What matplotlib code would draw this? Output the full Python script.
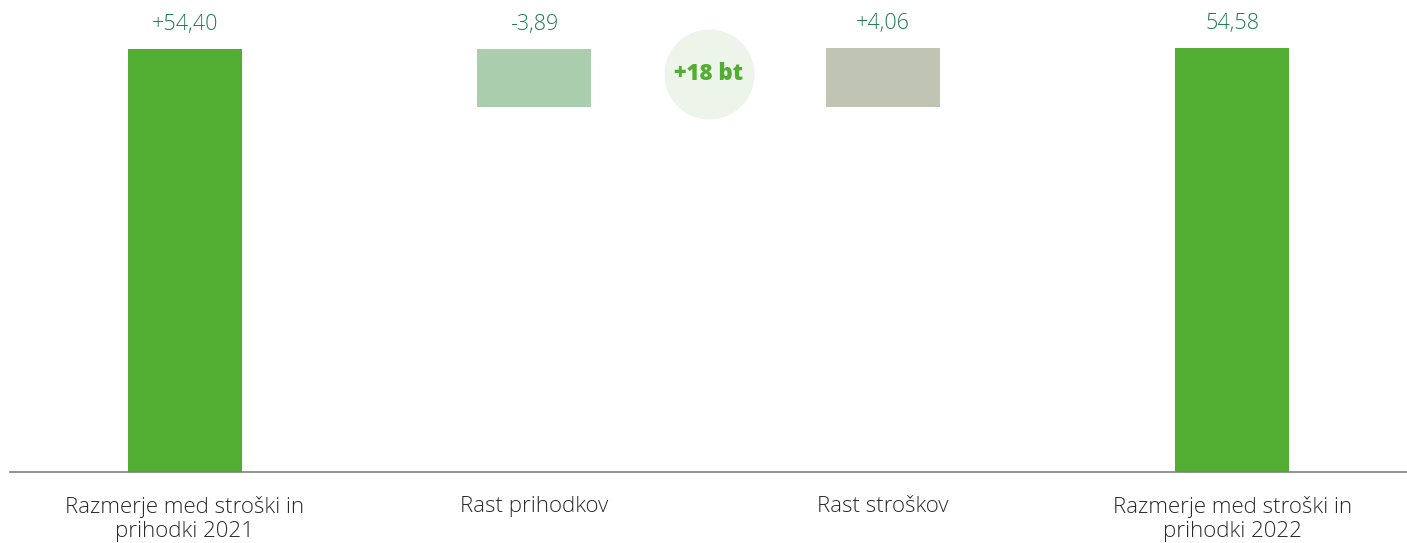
import matplotlib.pyplot as plt
import numpy as np

labels = ["Razmerje med stroški in\nprihodki 2021", "Rast prihodkov", "Rast stroškov", "Razmerje med stroški in\nprihodki 2022"]
value_text = ["+54,40", "-3,89", "+4,06", "54,58"]
bar_low = [0, 46.94, 46.94, 0]
bar_high = [54.40, 54.40, 54.58, 54.58]
colors = ["#52AE32", "#AACDAE", "#C0C4B2", "#52AE32"]
badge = "+18 bt"
badge_y = 51.2

plt.rcParams['font.family'] = ['Open Sans', 'DejaVu Sans']

fig = plt.figure(figsize=(14.07, 5.43), dpi=100)
ax = fig.add_axes([10 / 1407, 1 - 472 / 543, 1 - 10 / 1407, 472 / 543])

x = np.arange(len(labels))
heights = np.array(bar_high) - np.array(bar_low)
ax.bar(x, heights, bottom=bar_low, width=0.327, color=colors, zorder=2)

for xi, top, txt in zip(x, bar_high, value_text):
    ax.text(xi, top + 3.1, txt, ha="center", va="center", fontsize=15.5,
            fontweight="light", color="#1E7A50")

# badge between the two middle bars
ax.scatter([1.5], [badge_y], s=4200, color="#EDF5EA", zorder=1, linewidths=0)
ax.text(1.5, badge_y, badge, ha="center", va="center", fontsize=16,
        fontweight="heavy", color="#52AE32", zorder=3)

ax.set_xlim(-0.5, 3.5)
ax.set_ylim(0, 472 / 7.776)
ax.set_xticks(x)
ax.set_xticklabels(labels, fontsize=16, fontweight="light", color="#2a2a2a", linespacing=1.22)
ax.tick_params(axis="x", length=0, pad=17)
ax.set_yticks([])
for s in ["top", "left", "right"]:
    ax.spines[s].set_visible(False)
ax.spines["bottom"].set_color("#808080")
ax.spines["bottom"].set_linewidth(1.2)

fig.savefig("out.png", dpi=100)
